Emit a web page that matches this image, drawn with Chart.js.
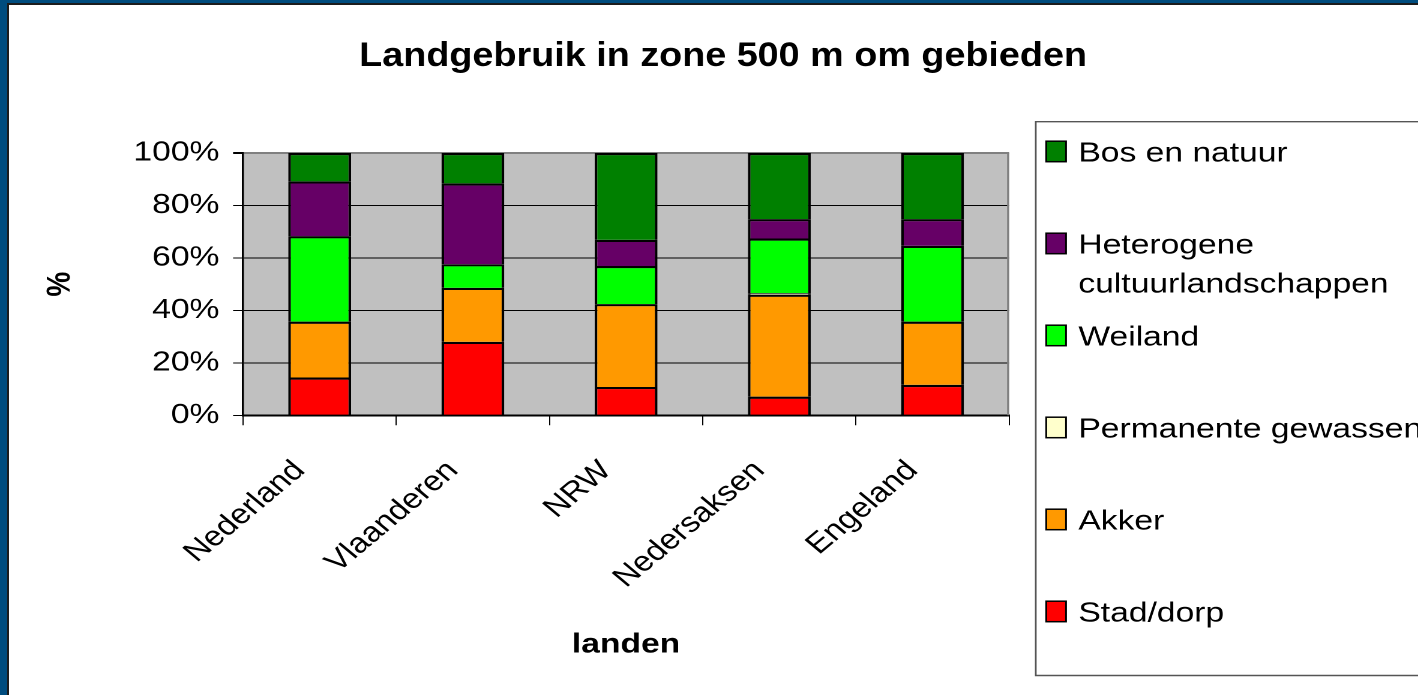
<!DOCTYPE html>
<html>
<head>
<meta charset="utf-8">
<script src="https://cdn.jsdelivr.net/npm/chart.js@4"></script>
<style>
html,body{margin:0;padding:0;width:1418px;height:695px;overflow:hidden;background:#004C7E}
#edge{position:absolute;left:7px;top:3px;right:0;bottom:0;background:#1c1c1c}
#paper{position:absolute;left:9px;top:5px;right:0;bottom:0;background:#fff}
#wrap{position:absolute;left:9px;top:5px;width:1174px;height:690px;transform-origin:0 0;transform:scaleX(1.2002)}
</style>
</head>
<body>
<div id="edge"></div>
<div id="paper"></div>
<div id="wrap"><canvas id="c"></canvas></div>
<script>
// ---- data ----
const TITLE = 'Landgebruik in zone 500 m om gebieden';
const X_TITLE = 'landen';
const Y_TITLE = '%';
const categories = ['Nederland', 'Vlaanderen', 'NRW', 'Nedersaksen', 'Engeland'];
const yTickValues = [0, 20, 40, 60, 80, 100];
const yTickLabels = ['0%', '20%', '40%', '60%', '80%', '100%'];
const seriesNames = ['Stad/dorp', 'Akker', 'Permanente gewassen', 'Weiland', 'Heterogene cultuurlandschappen', 'Bos en natuur'];
const stadDorp = [14.4, 28.0, 10.8, 7.1, 11.6];
const akker = [21.3, 20.6, 31.6, 38.9, 24.1];
const permanenteGewassen = [0, 0, 0, 0.6, 0];
const weiland = [32.6, 9.0, 14.5, 20.8, 28.9];
const heterogene = [20.9, 30.8, 10.0, 7.4, 10.2];
const bosNatuur = [10.8, 11.6, 33.1, 25.2, 25.2];

// ---- styles ----
const FONT = '"Liberation Sans", Arial, Helvetica, sans-serif';
const colors = ['#FF0000', '#FF9900', '#FFFFCC', '#00FF00', '#660066', '#008000'];
const seriesData = [stadDorp, akker, permanenteGewassen, weiland, heterogene, bosNatuur];

const datasets = seriesData.map((d, i) => ({
  label: seriesNames[i],
  data: d,
  backgroundColor: colors[i],
  borderColor: '#000',
  borderWidth: 2.2,
  categoryPercentage: 0.41,
  barPercentage: 1
}));

function wrapText(ctx, text, maxW) {
  const words = text.split(' ');
  const lines = [];
  let cur = '';
  for (const w of words) {
    const t = cur ? cur + ' ' + w : w;
    if (cur && ctx.measureText(t).width > maxW) { lines.push(cur); cur = w; }
    else cur = t;
  }
  if (cur) lines.push(cur);
  return lines;
}

const decor = {
  id: 'decor',
  beforeDraw(chart) {
    const {ctx, chartArea: a} = chart;
    ctx.save();
    ctx.fillStyle = '#C0C0C0';
    ctx.fillRect(a.left, a.top, a.right - a.left, a.bottom - a.top);
    ctx.restore();
  },
  beforeDatasetsDraw(chart) {
    const {ctx, chartArea: a} = chart;
    ctx.save();
    ctx.strokeStyle = '#808080';
    ctx.lineWidth = 1.7;
    ctx.beginPath();
    ctx.moveTo(a.right - 0.85, a.top);
    ctx.lineTo(a.right - 0.85, a.bottom);
    ctx.stroke();
    ctx.restore();
  },
  afterDraw(chart) {
    const ctx = chart.ctx;
    ctx.save();
    // title
    ctx.fillStyle = '#000';
    ctx.font = 'bold 34px ' + FONT;
    ctx.textAlign = 'center';
    ctx.textBaseline = 'alphabetic';
    ctx.save();
    ctx.translate(595, 61);
    ctx.scale(0.925, 1);
    ctx.fillText(TITLE, 0, 0);
    ctx.restore();
    // legend box
    ctx.strokeStyle = '#555';
    ctx.lineWidth = 1.4;
    ctx.fillStyle = '#fff';
    ctx.beginPath();
    ctx.rect(855.5, 116.7, 340, 553.8);
    ctx.fill();
    ctx.stroke();
    ctx.font = '28px ' + FONT;
    ctx.textAlign = 'left';
    const ds = chart.data.datasets.slice().reverse();
    ds.forEach((d, i) => {
      const base = 156.7 + i * 92;
      ctx.fillStyle = d.backgroundColor;
      ctx.fillRect(864.2, base - 20.5, 16.5, 20.5);
      ctx.strokeStyle = '#000';
      ctx.lineWidth = 1.5;
      ctx.strokeRect(864.2, base - 20.5, 16.5, 20.5);
      ctx.fillStyle = '#000';
      const lines = wrapText(ctx, d.label, 300);
      lines.forEach((ln, j) => ctx.fillText(ln, 891, base + j * 39));
    });
    ctx.restore();
  }
};

new Chart(document.getElementById('c'), {
  type: 'bar',
  data: { labels: categories, datasets },
  plugins: [decor],
  options: {
    responsive: true,
    maintainAspectRatio: false,
    animation: false,
    devicePixelRatio: 2,
    layout: { padding: { left: 26.2, top: 148, right: 340.7, bottom: 33.2 } },
    plugins: { legend: { display: false }, tooltip: { enabled: false }, title: { display: false } },
    scales: {
      x: {
        stacked: true,
        offset: true,
        afterFit(s) { s.height = 246.5; },
        grid: { display: true, offset: true, drawOnChartArea: false, drawTicks: true, tickLength: 10, color: '#000', tickColor: '#000', lineWidth: 1 },
        border: { display: true, color: '#000', width: 2 },
        ticks: { autoSkip: false, minRotation: 45, maxRotation: 45, padding: 29, labelOffset: -16.5, color: '#000', font: { family: FONT, size: 28 } },
        title: { display: true, text: X_TITLE, color: '#000', padding: { top: 0, bottom: 0 }, font: { family: FONT, size: 28, weight: 'bold' } }
      },
      y: {
        stacked: true,
        min: 0,
        max: 100,
        afterFit(s) { s.width = 168.8; },
        afterBuildTicks(s) { s.ticks = yTickValues.map(v => ({ value: v })); },
        grid: {
          color: c => (c.tick && c.tick.value === 100) ? '#808080' : '#000',
          lineWidth: c => (c.tick && c.tick.value === 100) ? 2 : 1,
          tickColor: '#000',
          tickLength: 8.3,
          drawTicks: true
        },
        border: { display: true, color: '#000', width: 1.7 },
        ticks: {
          padding: 11.4,
          color: '#000',
          font: { family: FONT, size: 28 },
          callback: (v) => yTickLabels[yTickValues.indexOf(v)]
        },
        title: { display: true, text: Y_TITLE, color: '#000', padding: { top: 0, bottom: 0 }, font: { family: FONT, size: 28, weight: 'bold' } }
      }
    }
  }
});
</script>
</body>
</html>
